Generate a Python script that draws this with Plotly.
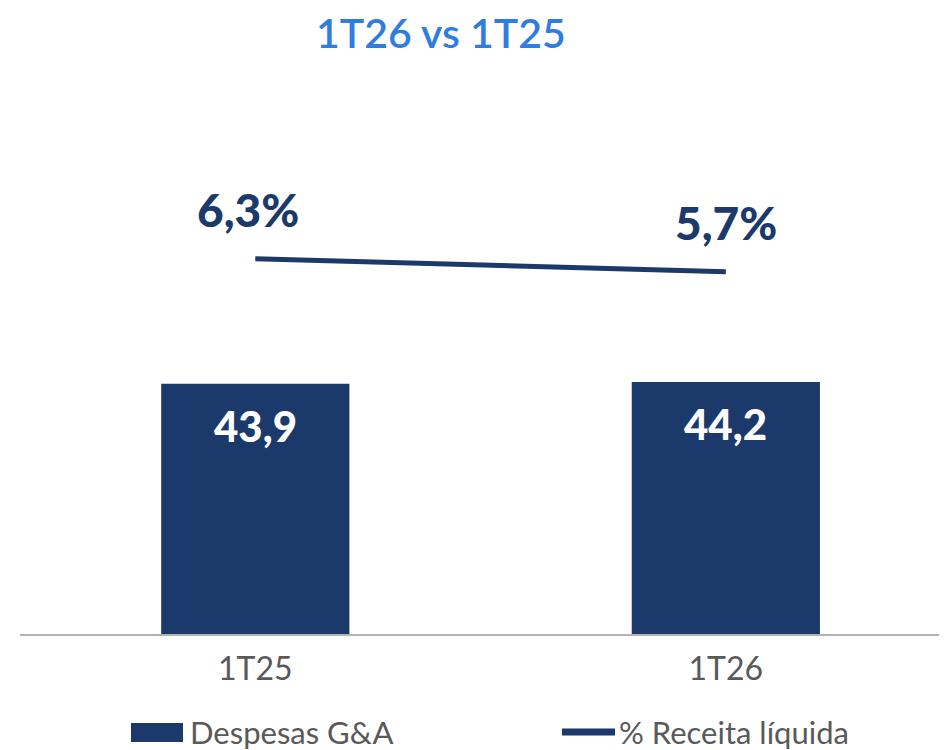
import plotly.graph_objects as go

categories = ["1T25", "1T26"]
despesas = [43.9, 44.2]
despesas_labels = ["43,9", "44,2"]
pct_receita = [6.3, 5.7]
pct_labels = ["6,3%", "5,7%"]

NAVY = "#1b3a6b"
BLUE = "#2f7de1"
GRAY = "#595959"
FONT = "Lato"

fig = go.Figure()
fig.add_trace(go.Bar(
    x=categories, y=despesas, name="Despesas G&A",
    marker=dict(color=NAVY, line=dict(width=0)), width=0.4,
    showlegend=False, hoverinfo="skip",
))
fig.add_trace(go.Scatter(
    x=categories, y=pct_receita, name="% Receita líquida", yaxis="y2",
    mode="lines", line=dict(color=NAVY, width=5),
    showlegend=False, hoverinfo="skip",
))

ann = []
for c, v, t in zip(categories, despesas, despesas_labels):
    ann.append(dict(x=c, y=v, xref="x", yref="y", text=t, showarrow=False,
                    yshift=-42, font=dict(family=FONT, size=42, color="white", weight=900)))
for c, v, t in zip(categories, pct_receita, pct_labels):
    ann.append(dict(x=c, y=v, xref="x", yref="y2", text=t, showarrow=False,
                    yshift=49, xshift=-7 if c == "1T25" else 0,
                    font=dict(family=FONT, size=46, color=NAVY, weight=900)))
ann.append(dict(xref="paper", yref="paper", x=(441 - 20) / 927, y=1 + (80 - 33) / 555,
                xanchor="center", yanchor="middle", text="1T26 vs 1T25", showarrow=False,
                font=dict(family=FONT, size=41, color=BLUE, weight=600)))
ann.append(dict(x=(188 - 20) / 927, y=-(732 - 635) / 555, xref="paper", yref="paper",
                text="Despesas G&A", showarrow=False, xanchor="left", yanchor="middle",
                font=dict(family=FONT, size=31, color=GRAY)))
ann.append(dict(x=(617 - 20) / 927, y=-(732 - 635) / 555, xref="paper", yref="paper",
                text="% Receita líquida", showarrow=False, xanchor="left", yanchor="middle",
                font=dict(family=FONT, size=31, color=GRAY)))

shapes = [
    dict(type="line", xref="paper", yref="paper", x0=0, x1=1, y0=0, y1=0,
         line=dict(color="#b3b3b3", width=2), layer="above"),
    dict(type="rect", xref="paper", yref="paper",
         x0=(131 - 20) / 927, x1=(183 - 20) / 927,
         y0=-(723 - 635) / 555, y1=-(742 - 635) / 555,
         fillcolor=NAVY, line=dict(width=0)),
    dict(type="line", xref="paper", yref="paper",
         x0=(562 - 20) / 927, x1=(615 - 20) / 927,
         y0=-(732 - 635) / 555, y1=-(732 - 635) / 555,
         line=dict(color=NAVY, width=7)),
]

fig.update_layout(
    width=939, height=742,
    margin=dict(l=12, r=0, t=72, b=115),
    paper_bgcolor="white", plot_bgcolor="white",
    annotations=ann, shapes=shapes,
    xaxis=dict(type="category", range=[-0.5, 1.47], showgrid=False, zeroline=False,
               showline=False, ticks="", ticklabelstandoff=12,
               tickfont=dict(family=FONT, size=32, color=GRAY)),
    yaxis=dict(range=[0, 97], visible=False, showgrid=False, zeroline=False),
    yaxis2=dict(range=[-11.04, 14.54], overlaying="y", visible=False, showgrid=False, zeroline=False),
    showlegend=False,
)

fig.write_html("out.html")
